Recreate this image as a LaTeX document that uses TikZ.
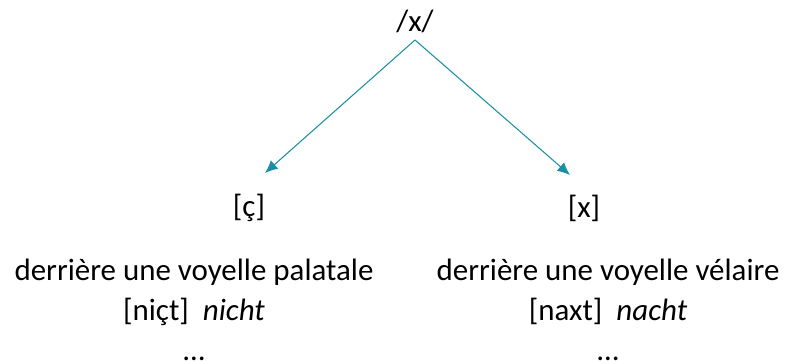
\documentclass[tikz,border=0pt]{standalone}
\usepackage{fontspec}
\setmainfont{Carlito}
\usetikzlibrary{arrows.meta}
\definecolor{arrowteal}{HTML}{1A8FA6}
\begin{document}
\begin{tikzpicture}[x=0.025cm,y=-0.025cm,
  every node/.style={font=\fontsize{22}{28.5}\selectfont, inner sep=2pt},
  branch/.style={->, draw=arrowteal, line width=0.75pt, >={Latex[length=9pt,width=8pt]}}]
\useasboundingbox (0,0) rectangle (796,363);
\node (ph) at (415,21) {/x/};
\node (pal) at (249,208) {[ç]};
\node (vel) at (584,208) {[x]};
\node[align=center] (palctx) at (194,310) {derrière une voyelle palatale\\{}[niçt]\ \ \textit{nicht}\\\dots};
\node[align=center] (velctx) at (608,310) {derrière une voyelle vélaire\\{}[naxt]\ \ \textit{nacht}\\\dots};
\draw[branch] ([yshift=-0.475cm]ph.center) -- ([xshift=0.4cm,yshift=0.875cm]pal.center);
\draw[branch] ([yshift=-0.475cm]ph.center) -- ([xshift=-0.35cm,yshift=0.825cm]vel.center);
\end{tikzpicture}
\end{document}
